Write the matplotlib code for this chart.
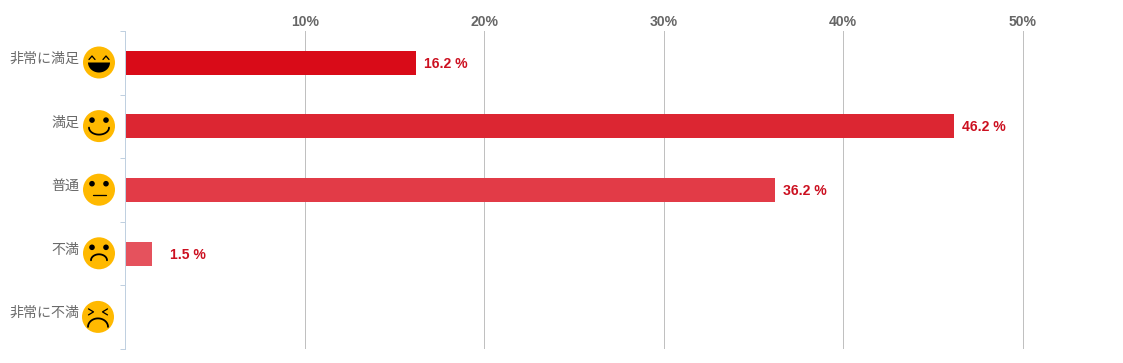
import numpy as np
import matplotlib
matplotlib.use("Agg")
import matplotlib.pyplot as plt
from matplotlib.patches import Circle, Polygon
from matplotlib.lines import Line2D
from matplotlib.transforms import IdentityTransform, ScaledTranslation

plt.rcParams['font.family'] = ['Noto Sans CJK JP', 'DejaVu Sans']

categories = ['非常に満足', '満足', '普通', '不満', '非常に不満']
values = [16.2, 46.2, 36.2, 1.5, None]
value_labels = ['16.2 %', '46.2 %', '36.2 %', '1.5 %', '']
bar_colors = ['#d90b18', '#dc2632', '#e23b47', '#e5525d', '#e86a73']
x_ticks = [10, 20, 30, 40, 50]
x_tick_labels = ['10%', '20%', '30%', '40%', '50%']
faces = ['laugh', 'smile', 'neutral', 'sad', 'angry']

W, H = 1123, 363
DPI = 100
PX = 72 / DPI
fig = plt.figure(figsize=(W / DPI, H / DPI), dpi=DPI, facecolor='white')
L, R, T, B = 125, 1110, 31, 349
ax = fig.add_axes([L / W, 1 - B / H, (R - L) / W, (B - T) / H])
x0 = -0.03
ax.set_xlim(x0, x0 + (R - L) / 17.94)
ax.set_ylim(len(categories) - 0.5, -0.5)

for s in ('top', 'right', 'bottom'):
    ax.spines[s].set_visible(False)
ax.spines['left'].set_color('#c0d0e0')
ax.spines['left'].set_linewidth(1 * PX)

ax.grid(axis='x', color='#c0c0c0', linewidth=1 * PX)
ax.set_axisbelow(True)

ax.xaxis.tick_top()
ax.set_xticks(x_ticks)
ax.set_xticklabels(x_tick_labels, family='Liberation Sans', fontweight='bold',
                   fontsize=14 * PX, color='#666666')
ax.tick_params(axis='x', length=0, pad=2 * PX)

ax.set_yticks(range(len(categories)))
ax.set_yticklabels(categories, fontsize=14 * PX, color='#6a6a6a')
ax.tick_params(axis='y', which='major', length=0, pad=46 * PX)
ax.set_yticks(np.arange(len(categories) + 1) - 0.5, minor=True)
ax.tick_params(axis='y', which='minor', length=5 * PX, width=1 * PX, color='#c0d0e0')
shift = ScaledTranslation(0, 5.5 / DPI, fig.dpi_scale_trans)
for lab in ax.get_yticklabels():
    lab.set_transform(lab.get_transform() + shift)

label_pad = [7.5, 7.5, 8, 17.5, 0]
for i, v in enumerate(values):
    if v is None:
        continue
    ax.barh(i, v, height=0.376, color=bar_colors[i], linewidth=0, zorder=3)
    ax.annotate(value_labels[i], xy=(v, i), xytext=(label_pad[i], -1),
                textcoords='offset pixels', family='Liberation Sans',
                fontweight='bold', fontsize=14 * PX, color='#cc1020',
                ha='left', va='center', zorder=4)

fig.canvas.draw()
tf = IdentityTransform()


def arc(cx, cy, rx, ry, t0, t1, n=40):
    t = np.radians(np.linspace(t0, t1, n))
    return cx + rx * np.cos(t), cy + ry * np.sin(t)


def line(xs, ys, lw=1.8):
    fig.add_artist(Line2D(xs, ys, transform=tf, color='black', linewidth=lw * PX,
                          solid_capstyle='round'))


def draw_face(kind, cx, cy):
    fig.add_artist(Circle((cx, cy), 16, transform=tf, facecolor='#ffb900', edgecolor='none'))
    if kind in ('smile', 'neutral', 'sad'):
        for sx in (-7, 7):
            fig.add_artist(Circle((cx + sx, cy + 6), 2.8, transform=tf,
                                  facecolor='black', edgecolor='none'))
    if kind == 'laugh':
        for sx in (-7, 7):
            line([cx + sx - 3, cx + sx, cx + sx + 3], [cy + 3, cy + 6.5, cy + 3], lw=1.3)
        xs, ys = arc(cx, cy, 11, 10, 180, 360)
        fig.add_artist(Polygon(np.column_stack([xs, ys]), closed=True, transform=tf,
                               facecolor='black', edgecolor='none'))
    elif kind == 'smile':
        line(*arc(cx, cy - 1.5, 10, 7, 180, 360))
    elif kind == 'neutral':
        line([cx - 6.5, cx + 6.5], [cy - 5, cy - 5], lw=1.3)
    elif kind == 'sad':
        line(*arc(cx, cy - 7, 8, 6, 0, 180))
    elif kind == 'angry':
        for sx, d in ((-7, 1), (7, -1)):
            line([cx + sx - 2.5 * d, cx + sx + 2.5 * d, cx + sx - 2.5 * d],
                 [cy + 8, cy + 5, cy + 2], lw=1.3)
        line(*arc(cx, cy - 10, 10, 8.5, 0, 180))


face_dx = [-26, -26, -26, -26, -27]
for i, kind in enumerate(faces):
    px, py = ax.transData.transform((0, i))
    draw_face(kind, L + face_dx[i], py + 0.3)

fig.savefig('out.png', dpi=DPI, facecolor='white')
